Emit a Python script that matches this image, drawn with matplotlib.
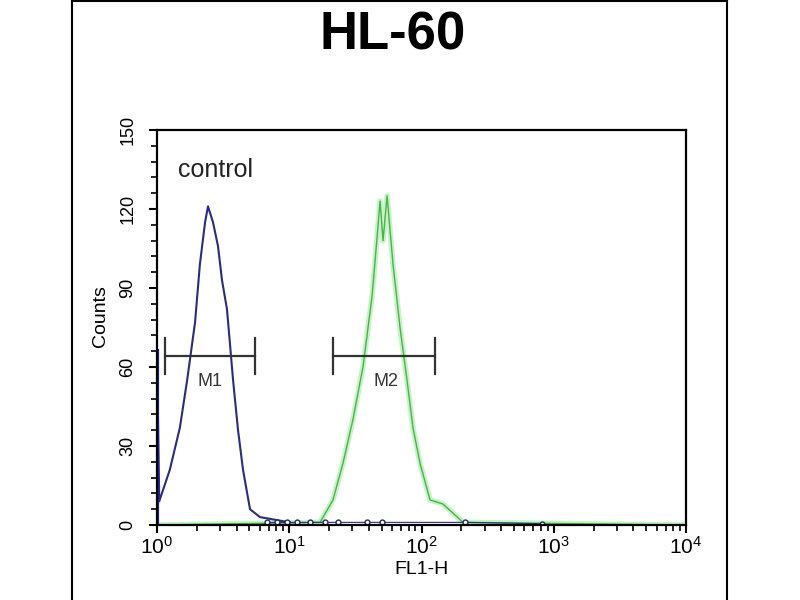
import matplotlib
matplotlib.use("Agg")
import matplotlib.pyplot as plt
from matplotlib.ticker import MultipleLocator, LogLocator, NullFormatter
from matplotlib.lines import Line2D

plt.rcParams['font.family'] = ['Liberation Sans', 'DejaVu Sans']

# control histogram (blue)
ctrl_x = [1.0, 1.0, 1.04, 1.25, 1.49, 1.69, 1.94, 2.11, 2.31, 2.43, 2.65, 2.89,
          3.10, 3.38, 3.56, 3.76, 4.10, 4.47, 5.05, 6.01, 10.1]
ctrl_y = [0, 66, 9, 21, 37, 55, 77, 99, 115, 121, 115, 106,
          93, 82, 69, 55, 36, 21, 6, 3, 1]
# scattered low events of the control along the baseline
ctrl_tail_x = [6.8, 8.1, 9.6, 11.5, 14.3, 18.6, 23.4, 38.7, 50.3, 213, 815]
ctrl_tail_y = [1, 1, 1, 1, 1, 1, 1, 1, 1, 1, 0.5]

# sample histogram (green)
samp_x = [1.0, 17.1, 21.4, 25.5, 30.3, 36.1, 42.3, 46.1, 48.6, 51.2, 54.9, 60.9,
          68.8, 77.7, 86.2, 97.4, 116, 145, 173, 206, 10000]
samp_y = [0, 1, 9.5, 23.5, 40, 60, 87, 109, 123, 108, 125, 99,
          75, 55, 37, 23.5, 9.5, 8, 4.5, 1, 0]

# marker gates
gate_names = ['M1', 'M2']
gate_lo = [1.15, 21.4]
gate_hi = [5.5, 126]
gate_level = 64
gate_label_x = [2.5, 54]

fig = plt.figure(figsize=(8, 6), dpi=100)
ax = fig.add_axes([157 / 800, 75 / 600, 529 / 800, 395 / 600])

# green curve with soft glow
ax.plot(samp_x, samp_y, color='#8fe88f', lw=4, alpha=0.5, solid_joinstyle='round')
ax.plot(samp_x, samp_y, color='#4cb04c', lw=1)

ax.plot(ctrl_x, ctrl_y, color='#2c2c7a', lw=1.5)
ax.plot([1.0, 1.0], [0, 66], color='#1a1ab0', lw=3)
ax.plot(ctrl_tail_x, ctrl_tail_y, color='#2c2c7a', lw=0.8, marker='o', ms=3.5,
        mfc='white', mec='#1f2a55', mew=1)

for name, lo, hi, lx in zip(gate_names, gate_lo, gate_hi, gate_label_x):
    ax.plot([lo, hi], [gate_level, gate_level], color='#333333', lw=1.6)
    ax.plot([lo, lo], [gate_level - 6.5, gate_level + 7], color='#333333', lw=1.6)
    ax.plot([hi, hi], [gate_level - 6.5, gate_level + 7], color='#333333', lw=1.6)
    ax.text(lx, gate_level - 9.5, name, ha='center', va='center', fontsize=13,
            color='#333333')

ax.text(1.44, 132, 'control', fontsize=18, ha='left', va='baseline', color='#222222')

ax.set_xscale('log')
ax.set_xlim(1, 10000)
ax.set_ylim(0, 150)
ax.set_yticks([0, 30, 60, 90, 120, 150])
ax.yaxis.set_minor_locator(MultipleLocator(6))
ax.xaxis.set_minor_locator(LogLocator(base=10, subs=range(2, 10)))
ax.xaxis.set_minor_formatter(NullFormatter())

for s in ax.spines.values():
    s.set_linewidth(1.6)
ax.tick_params(axis='both', which='major', direction='out', length=6, width=1.5)
ax.tick_params(axis='both', which='minor', direction='out', length=4, width=1.2)
ax.tick_params(axis='x', labelsize=15, pad=2)
ax.tick_params(axis='y', labelsize=13, labelrotation=90, pad=9)
for lab in ax.get_yticklabels():
    lab.set_va('center')

ax.set_ylabel('Counts', fontsize=14)
ax.yaxis.set_label_coords(-0.09, 0.53)
ax.set_xlabel('FL1-H', fontsize=14)
ax.xaxis.set_label_coords(0.5, -0.09)

fig.text(0.491, 1 - 50 / 600, 'HL-60', fontsize=38, fontweight='bold',
         ha='center', va='baseline')

# outer frame
fig.add_artist(Line2D([72 / 800, 72 / 800], [0, 0.998], color='black', lw=1.5))
fig.add_artist(Line2D([727 / 800, 727 / 800], [0, 0.998], color='black', lw=1.5))
fig.add_artist(Line2D([72 / 800, 727 / 800], [0.998, 0.998], color='black', lw=1.5))

fig.savefig('out.png', dpi=100, facecolor='white')
